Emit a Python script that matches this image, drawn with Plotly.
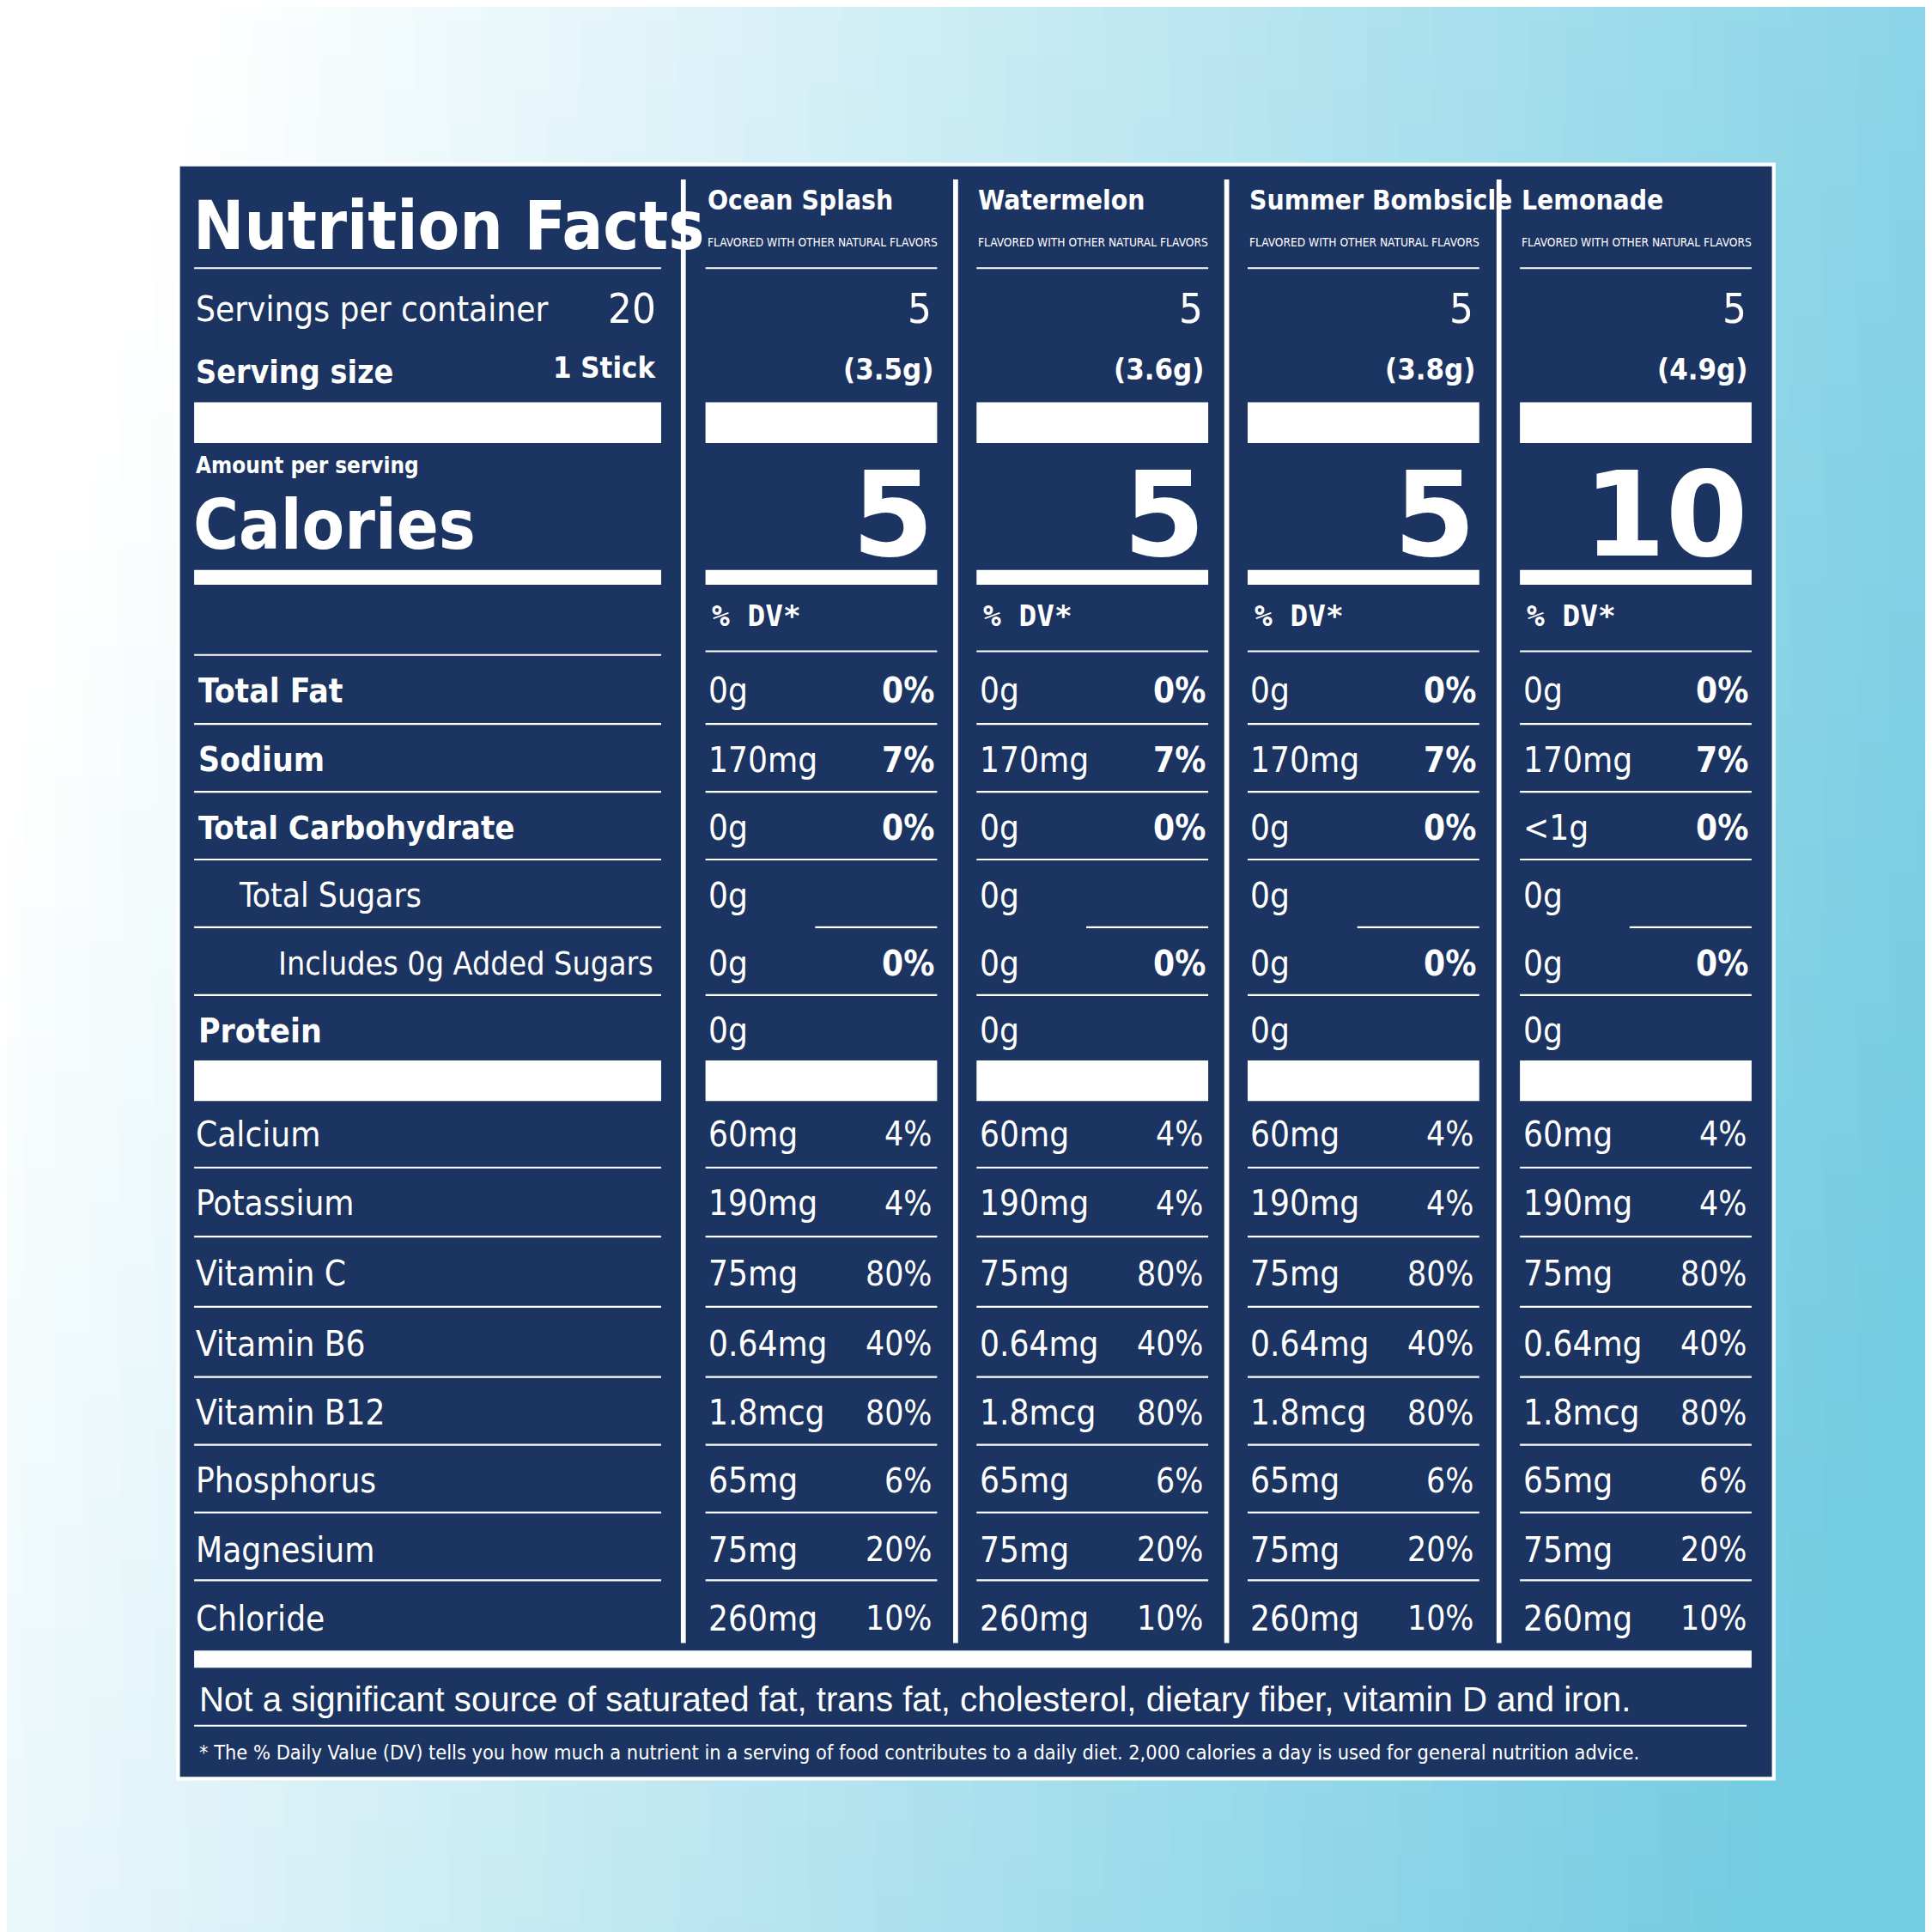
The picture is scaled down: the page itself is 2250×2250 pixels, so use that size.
import plotly.graph_objects as go
import numpy as np

S = 2250 / 1568.0
NAVY = "#1b3461"
FN = "DejaVu Sans Condensed"

flavors = ["Ocean Splash", "Watermelon", "Summer Bombsicle", "Lemonade"]
servings = ["5", "5", "5", "5"]
weights = ["(3.5g)", "(3.6g)", "(3.8g)", "(4.9g)"]
calories = ["5", "5", "5", "10"]

macro_labels = ["Total Fat", "Sodium", "Total Carbohydrate", "Total Sugars", "Includes 0g Added Sugars", "Protein"]
macro_amounts = [["0g"] * 4, ["170mg"] * 4, ["0g", "0g", "0g", "<1g"], ["0g"] * 4, ["0g"] * 4, ["0g"] * 4]
macro_dv = [["0%"] * 4, ["7%"] * 4, ["0%"] * 4, [""] * 4, ["0%"] * 4, [""] * 4]

micro_labels = ["Calcium", "Potassium", "Vitamin C", "Vitamin B6", "Vitamin B12", "Phosphorus", "Magnesium", "Chloride"]
micro_amounts = ["60mg", "190mg", "75mg", "0.64mg", "1.8mcg", "65mg", "75mg", "260mg"]
micro_dv = ["4%", "4%", "80%", "40%", "80%", "6%", "20%", "10%"]

fig = go.Figure()
gx = np.linspace(0, 1568, 60)
gy = np.linspace(0, 1568, 60)
Z = np.clip(gx[None, :] / 1568 * 0.95 + gy[:, None] / 1568 * 0.25 - 0.1, 0, 1)
fig.add_trace(go.Heatmap(x=gx, y=gy, z=Z, colorscale=[[0, "#ffffff"], [1, "#74cce2"]],
                         showscale=False, hoverinfo="skip", zmin=0, zmax=1))

shapes = []
ann = []

def rect(x0, y0, x1, y1, color="white", line=None):
    shapes.append(dict(type="rect", x0=x0, y0=y0, x1=x1, y1=y1, fillcolor=color,
                       line=dict(width=0) if line is None else line, layer="above"))

def hline(x0, x1, y, w=1.5):
    shapes.append(dict(type="line", x0=x0, x1=x1, y0=y, y1=y, line=dict(color="white", width=w * S)))

def txt(x, y, t, size, bold=False, anchor="left", font=FN):
    ann.append(dict(x=x, y=y, text=("<b>%s</b>" % t) if bold else t, showarrow=False,
                    xanchor=anchor, yanchor="middle", xshift=0,
                    font=dict(family=font, size=size * S, color="white")))

rect(139, 128, 1434, 1438, NAVY, line=dict(color="white", width=3 * S))

LX0, LX1 = 152, 531
cols = [(567, 755), (787, 975), (1007, 1195), (1228, 1416)]
for sx in [549, 770, 990, 1211]:
    shapes.append(dict(type="line", x0=sx, x1=sx, y0=140, y1=1328, line=dict(color="white", width=4 * S)))

txt(150, 178, "Nutrition Facts", 55, True)
hline(LX0, LX1, 212)
txt(152, 245, "Servings per container", 28)
txt(528, 245, "20", 34, anchor="right")
txt(152, 296, "Serving size", 26, True)
txt(528, 293, "1 Stick", 24, True, "right")
rect(LX0, 321, LX1, 354)
txt(152, 372, "Amount per serving", 18, True)
txt(150, 420, "Calories", 56, True)
rect(LX0, 457, LX1, 469)
hline(LX0, LX1, 526)

row_y = [555, 611, 666, 721, 776, 831]
row_lines = [582, 637, 692, 747, 802]
indent = [154, 154, 154, 187, 219, 154]
lab_size = [27, 27, 26.5, 27, 26, 27]
for i, lab in enumerate(macro_labels):
    b = i in (0, 1, 2, 5)
    txt(indent[i], row_y[i], lab, lab_size[i], b)
for y in row_lines:
    hline(LX0, LX1, y)
rect(LX0, 855, LX1, 888)
mic_y = [915, 971, 1028, 1085, 1141, 1196, 1252, 1308]
mic_lines = [942, 998, 1055, 1112, 1167, 1222, 1277]
for i, lab in enumerate(micro_labels):
    txt(152, mic_y[i], lab, 28)
for y in mic_lines:
    hline(LX0, LX1, y)

for c, (x0, x1) in enumerate(cols):
    txt(x0, 157, flavors[c], 22, True)
    txt(x0, 191, "FLAVORED WITH OTHER NATURAL FLAVORS", 9.5)
    hline(x0, x1, 212)
    txt(x1 - 3, 245, servings[c], 34, anchor="right")
    txt(x1 - 2, 294, weights[c], 24, True, "right")
    rect(x0, 321, x1, 354)
    txt(x1 - 1, 412, calories[c], 96, True, "right", font="DejaVu Sans")
    rect(x0, 457, x1, 469)
    txt(x0 + 4, 494, "% DV*", 24, True, font="DejaVu Sans Mono")
    hline(x0, x1, 523)
    for i in range(6):
        txt(x0 + 1, row_y[i], macro_amounts[i][c], 28)
        if macro_dv[i][c]:
            txt(x1 - 1, row_y[i], macro_dv[i][c], 28, True, "right")
    for j, y in enumerate(row_lines):
        hline(x0 + 89 if j == 3 else x0, x1, y)
    rect(x0, 855, x1, 888)
    for i in range(8):
        txt(x0 + 1, mic_y[i], micro_amounts[i], 28)
        txt(x1 - 3, mic_y[i], micro_dv[i], 27, anchor="right")
    for y in mic_lines:
        hline(x0, x1, y)

rect(152, 1334, 1416, 1348)
txt(155, 1374, "Not a significant source of saturated fat, trans fat, cholesterol, dietary fiber, vitamin D and iron.", 28, font="Liberation Sans")
hline(152, 1412, 1395)
txt(155, 1417, "* The % Daily Value (DV) tells you how much a nutrient in a serving of food contributes to a daily diet. 2,000 calories a day is used for general nutrition advice.", 16.3)

fig.update_layout(width=2250, height=2250, margin=dict(l=0, r=0, t=0, b=0),
                  shapes=shapes, annotations=ann, paper_bgcolor="white", plot_bgcolor="white",
                  xaxis=dict(range=[0, 1568], visible=False, fixedrange=True),
                  yaxis=dict(range=[1568, 0], visible=False, fixedrange=True))
fig.write_html("out.html")
